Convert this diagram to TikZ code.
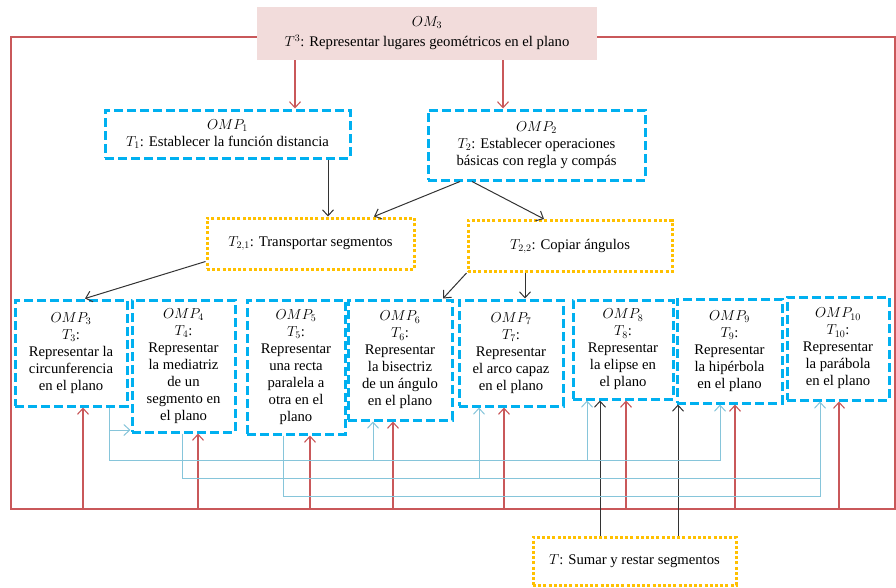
\documentclass[tikz,border=0pt]{standalone}
\usepackage{fontspec}
\setmainfont{Liberation Serif}
\usetikzlibrary{arrows.meta}
\definecolor{ompblue}{HTML}{00B0F0}
\definecolor{tgold}{HTML}{FFC000}
\definecolor{ompink}{HTML}{F2DCDB}
\definecolor{redl}{HTML}{C9585A}
\definecolor{bluel}{HTML}{86C5DA}
\definecolor{darkl}{HTML}{333333}
\tikzset{
  ombox/.style={fill=ompink, align=center, inner sep=0pt, font=\fontsize{14.7}{20}\selectfont},
  ompbox/.style={draw=ompblue, line width=3pt, dash pattern=on 9pt off 4pt, align=center, inner sep=0pt, font=\fontsize{14.7}{17}\selectfont},
  tbox/.style={draw=tgold, line width=3pt, dash pattern=on 3pt off 2.2pt, align=center, inner sep=0pt, font=\fontsize{14.7}{17}\selectfont},
  rline/.style={draw=redl, line width=1.1pt},
  bline/.style={draw=bluel, line width=1pt},
  kline/.style={draw=darkl, line width=1pt},
}
\begin{document}
\begin{tikzpicture}[>={Straight Barb[length=6pt,width=11pt]},x=1pt,y=-1pt]
  \useasboundingbox (0,0) rectangle (896,587);
  % tareas y organizaciones
  \node[ombox, minimum width=340pt, minimum height=53pt] (om3) at (427,33.5) {$OM_3$\\$T^3$: Representar lugares geométricos en el plano};
  \node[ompbox, minimum width=245pt, minimum height=48pt] (omp1) at (227.5,134) {$OMP_1$\\$T_1$: Establecer la función distancia};
  \node[ompbox, minimum width=217pt, minimum height=70pt] (omp2) at (536.5,145) {$OMP_2$\\$T_2$: Establecer operaciones\\básicas con regla y compás};
  \node[tbox, minimum width=207pt, minimum height=51pt] (t21) at (310.5,243.5) {$T_{2,1}$: Transportar segmentos};
  \node[tbox, minimum width=204pt, minimum height=51pt] (t22) at (570,246) {$T_{2,2}$: Copiar ángulos};
  \node[ompbox, minimum width=112pt, minimum height=106pt] (omp3) at (71,353) {$OMP_3$\\$T_3$:\\Representar la\\circunferencia\\en el plano};
  \node[ompbox, minimum width=103pt, minimum height=132pt] (omp4) at (183.5,366) {$OMP_4$\\$T_4$:\\Representar\\la mediatriz\\de un\\segmento en\\el plano};
  \node[ompbox, minimum width=98pt, minimum height=134pt] (omp5) at (296,367) {$OMP_5$\\$T_5$:\\Representar\\una recta\\paralela a\\otra en el\\plano};
  \node[ompbox, minimum width=104pt, minimum height=120pt] (omp6) at (400,360) {$OMP_6$\\$T_6$:\\Representar\\la bisectriz\\de un ángulo\\en el plano};
  \node[ompbox, minimum width=104pt, minimum height=106pt] (omp7) at (511,353) {$OMP_7$\\$T_7$:\\Representar\\el arco capaz\\en el plano};
  \node[ompbox, minimum width=100pt, minimum height=99pt] (omp8) at (623,349.5) {$OMP_8$\\$T_8$:\\Representar\\la elipse en\\el plano};
  \node[ompbox, minimum width=105pt, minimum height=104pt] (omp9) at (729.5,351) {$OMP_9$\\$T_9$:\\Representar\\la hipérbola\\en el plano};
  \node[ompbox, minimum width=102pt, minimum height=103pt] (omp10) at (838,348.5) {$OMP_{10}$\\$T_{10}$:\\Representar\\la parábola\\en el plano};
  \node[tbox, minimum width=203pt, minimum height=48pt] (tsum) at (634.5,561) {$T$: Sumar y restar segmentos};
  % lazo rojo
  \draw[rline] (om3.west |- 0,37) -- (11,37) -- (11,509) -- (895,509) -- (895,37) -- (om3.east |- 0,37);
  \draw[rline,->] (295,0 |- om3.south) -- (295,0 |- omp1.north);
  \draw[rline,->] (503,0 |- om3.south) -- (503,0 |- omp2.north);
  \draw[rline,->] (83,509) -- (83,0 |- omp3.south);
  \draw[rline,->] (198,509) -- (198,0 |- omp4.south);
  \draw[rline,->] (310,509) -- (310,0 |- omp5.south);
  \draw[rline,->] (393,509) -- (393,0 |- omp6.south);
  \draw[rline,->] (504,509) -- (504,0 |- omp7.south);
  \draw[rline,->] (626,509) -- (626,0 |- omp8.south);
  \draw[rline,->] (735,509) -- (735,0 |- omp9.south);
  \draw[rline,->] (839,509) -- (839,0 |- omp10.south);
  % flechas negras
  \draw[kline,->] (328,0 |- omp1.south) -- (328,0 |- t21.north);
  \draw[kline,->] (460,0 |- omp2.south) -- (374,0 |- t21.north);
  \draw[kline,->] (472,0 |- omp2.south) -- (544,0 |- t22.north);
  \draw[kline,->] ([yshift=9pt]t21.south west) -- (85,0 |- omp3.north);
  \draw[kline,->] (t22.south west) -- (443,0 |- omp6.north);
  \draw[kline,->] (525,0 |- t22.south) -- (525,0 |- omp7.north);
  \draw[kline,->] (600,0 |- tsum.north) -- (600,0 |- omp8.south);
  \draw[kline,->] (678,0 |- tsum.north) -- (678,0 |- omp9.south);
  % conexiones azules
  \draw[bline,->] (109,0 |- omp3.south) |- (omp4.west |- 0,430);
  \draw[bline,->] (109,430) |- (720,460) -- (720,0 |- omp9.south);
  \draw[bline,->] (373,460) -- (373,0 |- omp6.south);
  \draw[bline,->] (587,460) -- (587,0 |- omp8.south);
  \draw[bline,->] (182,0 |- omp4.south) |- (820,478) -- (820,0 |- omp10.south);
  \draw[bline,->] (479,478) -- (479,0 |- omp7.south);
  \draw[bline] (283,0 |- omp5.south) |- (820,496) -- (820,478);
\end{tikzpicture}
\end{document}
